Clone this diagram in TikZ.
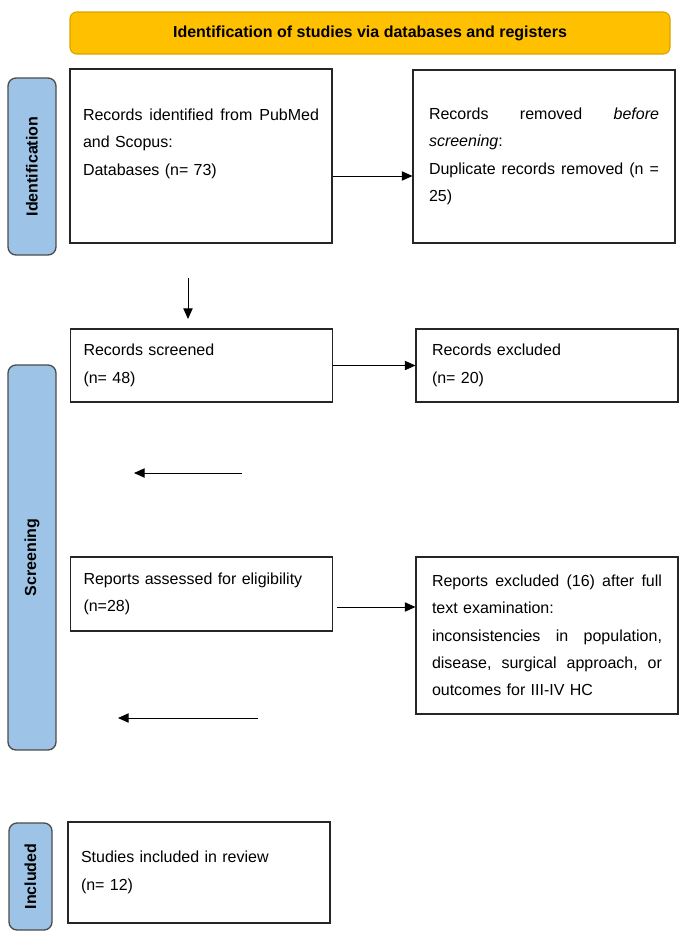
\documentclass[tikz,border=0pt]{standalone}
\usepackage{fontspec}
\setmainfont{Liberation Sans}
\usetikzlibrary{arrows.meta}
\definecolor{barblue}{HTML}{9DC3E6}
\definecolor{gold}{HTML}{FFC000}
\definecolor{golddark}{HTML}{D9A400}
\begin{document}
\begin{tikzpicture}[x=0.75pt,y=-0.75pt,
  box/.style={draw=black!85, line width=0.8pt, fill=white, inner ysep=0pt, align=left,
    font=\fontsize{12}{20.5}\selectfont},
  bar/.style={draw=black!70, line width=1pt, fill=barblue, rounded corners=6pt, inner sep=0pt,
    rotate=90, minimum height=36pt, font=\fontsize{12}{14}\selectfont\bfseries},
  banner/.style={draw=golddark, line width=0.8pt, fill=gold, rounded corners=5pt,
    minimum width=450pt, minimum height=31.5pt, font=\fontsize{12}{14}\selectfont\bfseries},
  arr/.style={-{Triangle[length=8pt,width=7pt]}, line width=0.75pt}
]
\useasboundingbox (0,0) rectangle (689,939);

% banner
\node[banner] (ban) at (370,33) {Identification of studies via databases and registers};

% side bars
\node[bar, minimum width=132.75pt] (idb) at (32,166.5) {Identification};
\node[bar, minimum width=288.75pt] (scb) at (32,557.5) {Screening};
\node[bar, minimum width=80.25pt, minimum height=32.25pt] (inb) at (30.5,876.5) {Included};

% boxes
\node[box, text width=177pt, inner xsep=9.75pt, minimum height=130.5pt] (b1) at (201,156)
  {Records \hfill identified \hfill from \hfill PubMed\\
   and Scopus:\\
   Databases (n= 73)\rule[-21pt]{0pt}{21pt}};
\node[box, text width=172.5pt, inner xsep=12pt, minimum height=129.75pt] (b2) at (544,156.5)
  {Records \hfill removed \hfill \textit{before}\\
   \textit{screening}:\\
   Duplicate \hfill records \hfill removed \hfill (n \hfill =\\
   25)};
\node[box, text width=177pt, inner xsep=10pt, minimum height=54.75pt] (b3) at (201.5,365.5)
  {Records screened\\(n= 48)};
\node[box, text width=172.5pt, inner xsep=12pt, minimum height=54.75pt] (b4) at (547,365.5)
  {Records excluded\\(n= 20)};
\node[box, text width=177pt, inner xsep=10pt, minimum height=55.5pt] (b5) at (201.5,594)
  {Reports assessed for eligibility\\(n=28)};
\node[box, text width=172.5pt, inner xsep=12pt, minimum height=117.75pt] (b6) at (547,635.5)
  {Reports \hfill excluded \hfill (16) \hfill after \hfill full\\
   text examination:\\
   inconsistencies \hfill in \hfill population,\\
   disease, \hfill surgical \hfill approach, \hfill or\\
   outcomes for III-IV HC};
\node[box, text width=177pt, inner xsep=9.75pt, minimum height=75.75pt] (b7) at (199,872.5)
  {Studies included in review\\(n= 12)};

% connector helpers
\coordinate (y1) at (0,176);
\coordinate (y3) at (0,607);
\coordinate (d1) at (188,278);
\coordinate (d2) at (188,319);
\coordinate (l1s) at (242,473);
\coordinate (l1e) at (134,473);
\coordinate (l2s) at (258,718);
\coordinate (l2e) at (118,718);

% arrows
\draw[arr] (b1.east |- y1) -- (b2.west |- y1);
\draw[arr] (d1) -- (d2);
\draw[arr] (b3.east) -- (b4.west);
\draw[arr] (l1s) -- (l1e);
\draw[arr] ([xshift=3pt]b5.east |- y3) -- (b6.west |- y3);
\draw[arr] (l2s) -- (l2e);
\end{tikzpicture}
\end{document}
